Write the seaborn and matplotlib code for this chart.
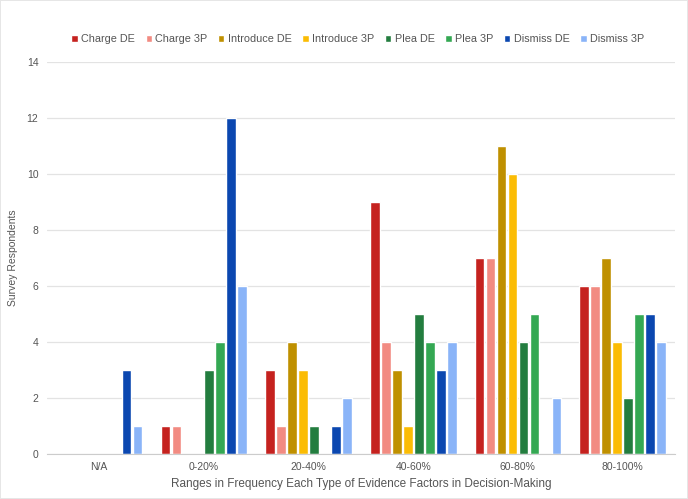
import pandas as pd
import numpy as np
import matplotlib.pyplot as plt
import seaborn as sns

# survey counts per range, one list per series
ranges = ['N/A', '0-20%', '20-40%', '40-60%', '60-80%', '80-100%']
series = ['Charge DE', 'Charge 3P', 'Introduce DE', 'Introduce 3P',
          'Plea DE', 'Plea 3P', 'Dismiss DE', 'Dismiss 3P']
charge_de = [0, 1, 3, 9, 7, 6]
charge_3p = [0, 1, 1, 4, 7, 6]
introduce_de = [0, 0, 4, 3, 11, 7]
introduce_3p = [0, 0, 3, 1, 10, 4]
plea_de = [0, 3, 1, 5, 4, 2]
plea_3p = [0, 4, 0, 4, 5, 5]
dismiss_de = [3, 12, 1, 3, 0, 5]
dismiss_3p = [1, 6, 2, 4, 2, 4]

colors = ['#c5221f', '#f28b82', '#bf9000', '#fbbc04',
          '#237d3f', '#34a853', '#0b47b0', '#8ab4f8']

values = [charge_de, charge_3p, introduce_de, introduce_3p,
          plea_de, plea_3p, dismiss_de, dismiss_3p]
rows = []
for name, vals in zip(series, values):
    for r, v in zip(ranges, vals):
        rows.append({'Range': r, 'Series': name, 'Count': v})
df = pd.DataFrame(rows)

sns.set_style('white')
plt.rcParams['font.family'] = ['Liberation Sans', 'DejaVu Sans']

fig = plt.figure(figsize=(6.88, 4.99), dpi=100)
fig.patch.set_edgecolor('#e6e6e6')
fig.patch.set_linewidth(1.2)
ax = fig.add_axes([0.068, 0.090, 0.913, 0.786])

sns.barplot(data=df, x='Range', y='Count', hue='Series', order=ranges,
            hue_order=series, palette=colors, width=0.84, gap=0.12,
            saturation=1, ax=ax, legend=True)

ax.set_ylim(0, 14)
ax.set_yticks(range(0, 15, 2))
ax.yaxis.grid(True, color='#e3e3e3', linewidth=0.9)
ax.set_axisbelow(True)
for s in ['top', 'right', 'left']:
    ax.spines[s].set_visible(False)
ax.spines['bottom'].set_color('#cccccc')
ax.tick_params(axis='both', length=0, labelsize=7.5, colors='#555555', pad=6)
ax.set_xlabel('Ranges in Frequency Each Type of Evidence Factors in Decision-Making',
              fontsize=8.5, color='#555555', labelpad=4)
ax.set_ylabel('Survey Respondents', fontsize=7.5, color='#555555', labelpad=6)

ax.legend(loc='lower center', bbox_to_anchor=(0.495, 1.02), ncol=8, frameon=False,
          fontsize=7.8, handlelength=0.58, handleheight=0.5, handletextpad=0.3,
          columnspacing=1.0, labelcolor='#555555')

fig.savefig('out.png', dpi=100)
